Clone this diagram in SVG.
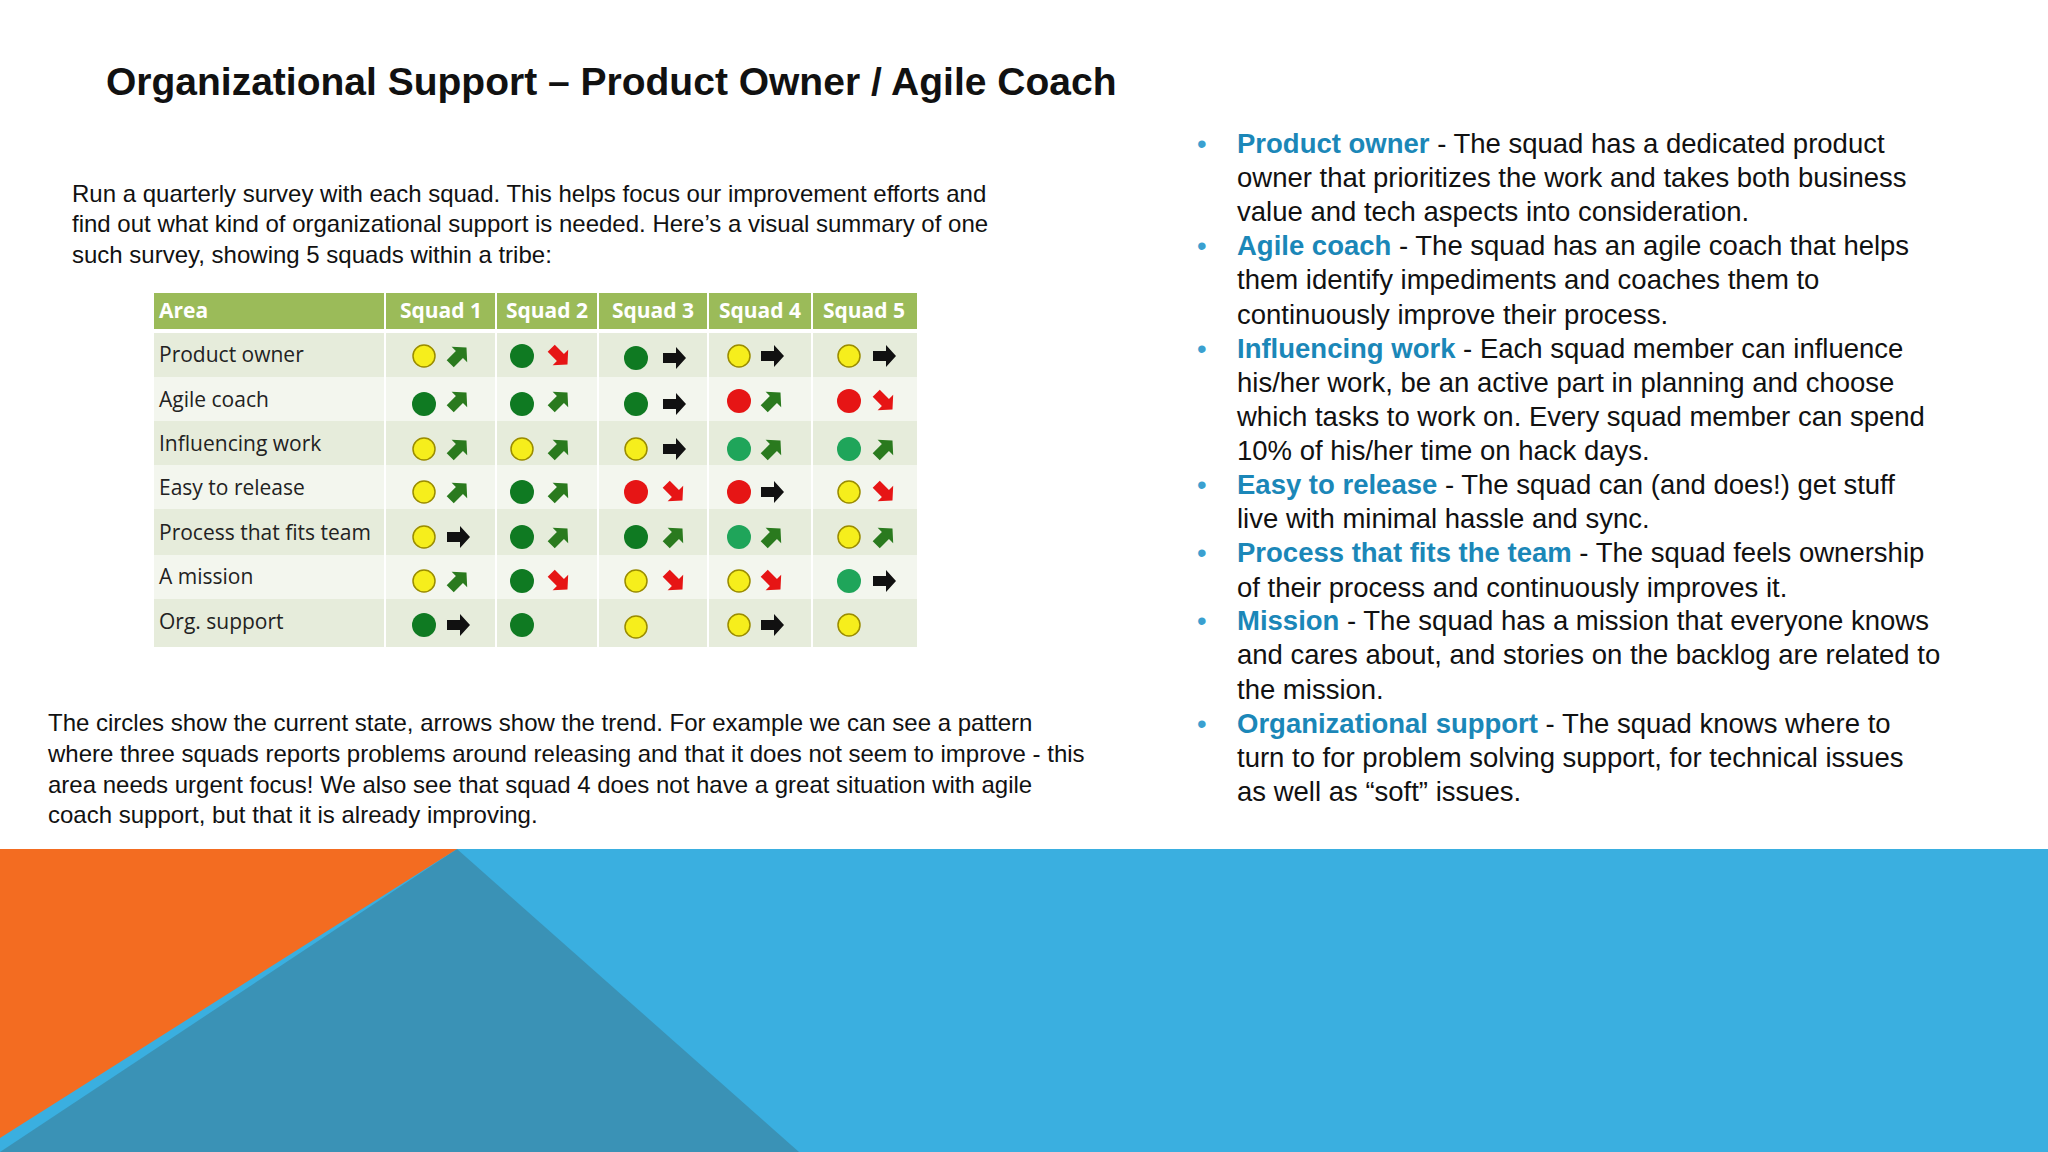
<svg xmlns="http://www.w3.org/2000/svg" xmlns:xlink="http://www.w3.org/1999/xlink" width="2048" height="1152" viewBox="0 0 2048 1152">
<style>
text{font-family:"Liberation Sans",Arial,sans-serif;fill:#111}
.t{font-size:39px;font-weight:bold}
.p{font-size:24px}
.r{font-size:27.5px}
.k{fill:#1b87b8;font-weight:bold}
.b{fill:#3aa0d0}
.tb{font-family:"Open Sans","Liberation Sans",sans-serif;font-size:21px;fill:#222}
.th{font-family:"Open Sans","Liberation Sans",sans-serif;font-size:21px;font-weight:bold;fill:#fff}
.y{fill:#f6ee1c;stroke:#9a8c00;stroke-width:1.5}
.g{fill:#0f7a22}
.lg{fill:#1fa55a}
.rd{fill:#e61515}
</style>
<defs>
<path id="ar" d="M-11,-5 L2,-5 L2,-11 L12,0 L2,11 L2,5 L-11,5 Z"/>
</defs>
<rect width="2048" height="1152" fill="#fff"/>
<text class="t" x="106" y="95">Organizational Support – Product Owner / Agile Coach</text>
<g id="intro" class="p">
<text x="72" y="202">Run a quarterly survey with each squad. This helps focus our improvement efforts and</text>
<text x="72" y="232">find out what kind of organizational support is needed. Here’s a visual summary of one</text>
<text x="72" y="263">such survey, showing 5 squads within a tribe:</text>
</g>
<g id="table">
<rect x="154" y="293" width="763" height="36" fill="#9bbb59"/>
<rect x="154" y="333" width="763" height="44" fill="#e6ecdb"/>
<rect x="154" y="377" width="763" height="44" fill="#f3f6ee"/>
<rect x="154" y="421" width="763" height="44" fill="#e6ecdb"/>
<rect x="154" y="465" width="763" height="44" fill="#f3f6ee"/>
<rect x="154" y="509" width="763" height="46" fill="#e6ecdb"/>
<rect x="154" y="555" width="763" height="44" fill="#f3f6ee"/>
<rect x="154" y="599" width="763" height="48" fill="#e6ecdb"/>
<g stroke="#fff" stroke-width="2">
<line x1="385" y1="293" x2="385" y2="647"/><line x1="496" y1="293" x2="496" y2="647"/><line x1="598" y1="293" x2="598" y2="647"/><line x1="708" y1="293" x2="708" y2="647"/><line x1="812" y1="293" x2="812" y2="647"/>
</g>
<text class="th" x="159" y="318">Area</text>
<text class="th" x="441" y="318" text-anchor="middle">Squad 1</text>
<text class="th" x="547" y="318" text-anchor="middle">Squad 2</text>
<text class="th" x="653" y="318" text-anchor="middle">Squad 3</text>
<text class="th" x="760" y="318" text-anchor="middle">Squad 4</text>
<text class="th" x="864" y="318" text-anchor="middle">Squad 5</text>
<text class="tb" x="159" y="362">Product owner</text>
<text class="tb" x="159" y="407">Agile coach</text>
<text class="tb" x="159" y="451">Influencing work</text>
<text class="tb" x="159" y="495">Easy to release</text>
<text class="tb" x="159" y="540">Process that fits team</text>
<text class="tb" x="159" y="584">A mission</text>
<text class="tb" x="159" y="629">Org. support</text>
<!-- row 1 y=356 -->
<circle class="y" cx="424" cy="356" r="11"/><use href="#ar" transform="translate(458,356) rotate(-45)" fill="#2a7a1e"/>
<circle class="g" cx="522" cy="356" r="12"/><use href="#ar" transform="translate(559,356) rotate(45)" fill="#e61515"/>
<circle class="g" cx="636" cy="358" r="12"/><use href="#ar" transform="translate(674,358)" fill="#111"/>
<circle class="y" cx="739" cy="356" r="11"/><use href="#ar" transform="translate(772,356)" fill="#111"/>
<circle class="y" cx="849" cy="356" r="11"/><use href="#ar" transform="translate(884,356)" fill="#111"/>
<!-- row 2 y=401 -->
<circle class="g" cx="424" cy="404" r="12"/><use href="#ar" transform="translate(458,401) rotate(-45)" fill="#2a7a1e"/>
<circle class="g" cx="522" cy="404" r="12"/><use href="#ar" transform="translate(559,401) rotate(-45)" fill="#2a7a1e"/>
<circle class="g" cx="636" cy="404" r="12"/><use href="#ar" transform="translate(674,404)" fill="#111"/>
<circle class="rd" cx="739" cy="401" r="12"/><use href="#ar" transform="translate(772,401) rotate(-45)" fill="#2a7a1e"/>
<circle class="rd" cx="849" cy="401" r="12"/><use href="#ar" transform="translate(884,401) rotate(45)" fill="#e61515"/>
<!-- row 3 y=449 -->
<circle class="y" cx="424" cy="449" r="11"/><use href="#ar" transform="translate(458,449) rotate(-45)" fill="#2a7a1e"/>
<circle class="y" cx="522" cy="449" r="11"/><use href="#ar" transform="translate(559,449) rotate(-45)" fill="#2a7a1e"/>
<circle class="y" cx="636" cy="449" r="11"/><use href="#ar" transform="translate(674,449)" fill="#111"/>
<circle class="lg" cx="739" cy="449" r="12"/><use href="#ar" transform="translate(772,449) rotate(-45)" fill="#2a7a1e"/>
<circle class="lg" cx="849" cy="449" r="12"/><use href="#ar" transform="translate(884,449) rotate(-45)" fill="#2a7a1e"/>
<!-- row 4 y=492 -->
<circle class="y" cx="424" cy="492" r="11"/><use href="#ar" transform="translate(458,492) rotate(-45)" fill="#2a7a1e"/>
<circle class="g" cx="522" cy="492" r="12"/><use href="#ar" transform="translate(559,492) rotate(-45)" fill="#2a7a1e"/>
<circle class="rd" cx="636" cy="492" r="12"/><use href="#ar" transform="translate(674,492) rotate(45)" fill="#e61515"/>
<circle class="rd" cx="739" cy="492" r="12"/><use href="#ar" transform="translate(772,492)" fill="#111"/>
<circle class="y" cx="849" cy="492" r="11"/><use href="#ar" transform="translate(884,492) rotate(45)" fill="#e61515"/>
<!-- row 5 y=537 -->
<circle class="y" cx="424" cy="537" r="11"/><use href="#ar" transform="translate(458,537)" fill="#111"/>
<circle class="g" cx="522" cy="537" r="12"/><use href="#ar" transform="translate(559,537) rotate(-45)" fill="#2a7a1e"/>
<circle class="g" cx="636" cy="537" r="12"/><use href="#ar" transform="translate(674,537) rotate(-45)" fill="#2a7a1e"/>
<circle class="lg" cx="739" cy="537" r="12"/><use href="#ar" transform="translate(772,537) rotate(-45)" fill="#2a7a1e"/>
<circle class="y" cx="849" cy="537" r="11"/><use href="#ar" transform="translate(884,537) rotate(-45)" fill="#2a7a1e"/>
<!-- row 6 y=581 -->
<circle class="y" cx="424" cy="581" r="11"/><use href="#ar" transform="translate(458,581) rotate(-45)" fill="#2a7a1e"/>
<circle class="g" cx="522" cy="581" r="12"/><use href="#ar" transform="translate(559,581) rotate(45)" fill="#e61515"/>
<circle class="y" cx="636" cy="581" r="11"/><use href="#ar" transform="translate(674,581) rotate(45)" fill="#e61515"/>
<circle class="y" cx="739" cy="581" r="11"/><use href="#ar" transform="translate(772,581) rotate(45)" fill="#e61515"/>
<circle class="lg" cx="849" cy="581" r="12"/><use href="#ar" transform="translate(884,581)" fill="#111"/>
<!-- row 7 y=625 -->
<circle class="g" cx="424" cy="625" r="12"/><use href="#ar" transform="translate(458,625)" fill="#111"/>
<circle class="g" cx="522" cy="625" r="12"/>
<circle class="y" cx="636" cy="627" r="11"/>
<circle class="y" cx="739" cy="625" r="11"/><use href="#ar" transform="translate(772,625)" fill="#111"/>
<circle class="y" cx="849" cy="625" r="11"/>
</g>
<g id="explain" class="p">
<text x="48" y="731">The circles show the current state, arrows show the trend. For example we can see a pattern</text>
<text x="48" y="762">where three squads reports problems around releasing and that it does not seem to improve - this</text>
<text x="48" y="793">area needs urgent focus! We also see that squad 4 does not have a great situation with agile</text>
<text x="48" y="823">coach support, but that it is already improving.</text>
</g>
<g id="bullets" class="r">
<text class="b" x="1197" y="153">•</text><text class="b" x="1197" y="255">•</text><text class="b" x="1197" y="358">•</text><text class="b" x="1197" y="494">•</text><text class="b" x="1197" y="562">•</text><text class="b" x="1197" y="630">•</text><text class="b" x="1197" y="733">•</text>
<text x="1237" y="153"><tspan class="k">Product owner</tspan> - The squad has a dedicated product</text>
<text x="1237" y="187">owner that prioritizes the work and takes both business</text>
<text x="1237" y="221">value and tech aspects into consideration.</text>
<text x="1237" y="255"><tspan class="k">Agile coach</tspan> - The squad has an agile coach that helps</text>
<text x="1237" y="289">them identify impediments and coaches them to</text>
<text x="1237" y="324">continuously improve their process.</text>
<text x="1237" y="358"><tspan class="k">Influencing work</tspan> - Each squad member can influence</text>
<text x="1237" y="392">his/her work, be an active part in planning and choose</text>
<text x="1237" y="426">which tasks to work on. Every squad member can spend</text>
<text x="1237" y="460">10% of his/her time on hack days.</text>
<text x="1237" y="494"><tspan class="k">Easy to release</tspan> - The squad can (and does!) get stuff</text>
<text x="1237" y="528">live with minimal hassle and sync.</text>
<text x="1237" y="562"><tspan class="k">Process that fits the team</tspan> - The squad feels ownership</text>
<text x="1237" y="597">of their process and continuously improves it.</text>
<text x="1237" y="630"><tspan class="k">Mission</tspan> - The squad has a mission that everyone knows</text>
<text x="1237" y="664">and cares about, and stories on the backlog are related to</text>
<text x="1237" y="699">the mission.</text>
<text x="1237" y="733"><tspan class="k">Organizational support</tspan> - The squad knows where to</text>
<text x="1237" y="767">turn to for problem solving support, for technical issues</text>
<text x="1237" y="801">as well as “soft” issues.</text>
</g>
<g id="footer">
<rect x="0" y="849" width="2048" height="303" fill="#3aafe0"/>
<polygon points="457,849 799,1152 0,1152" fill="#3a92b6"/>
<polygon points="0,849 457,849 0,1138" fill="#f36c21"/>
</g>
</svg>
